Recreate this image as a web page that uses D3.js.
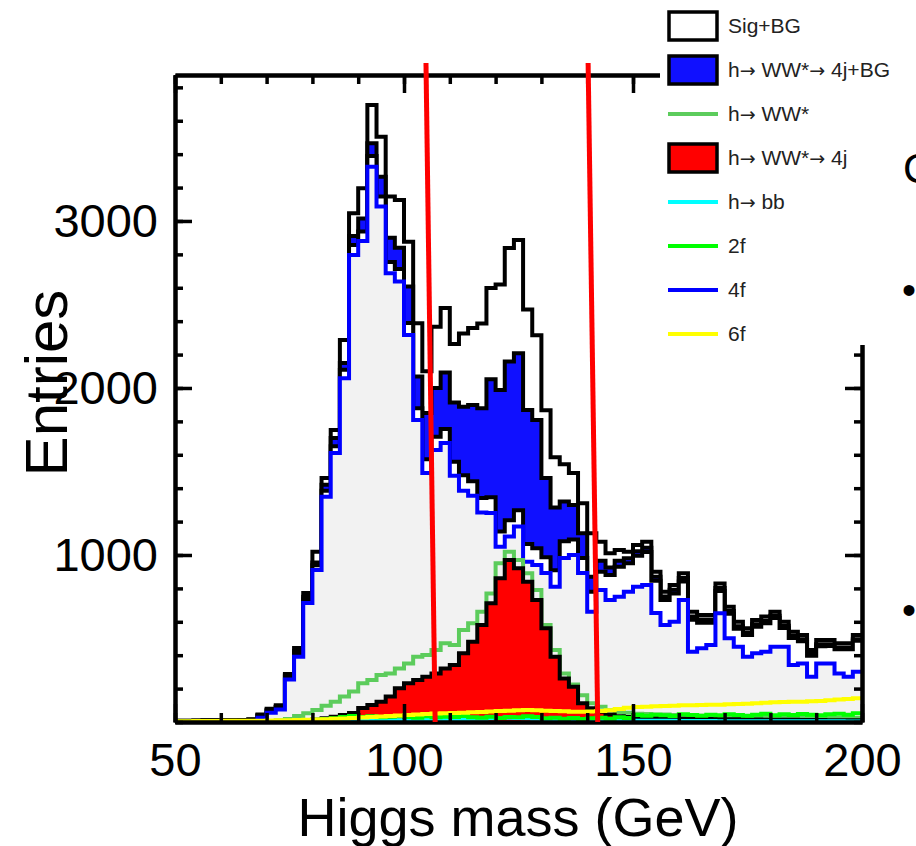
<!DOCTYPE html>
<html>
<head>
<meta charset="utf-8">
<script src="https://cdn.jsdelivr.net/npm/d3@7"></script>
<style>
  body { margin: 0; background: #fff; }
  svg { display: block; }
  text { font-family: "Liberation Sans", Arial, Helvetica, sans-serif; }
</style>
</head>
<body>
<svg id="chart" width="916" height="846"></svg>
<script>
// binning: 2 GeV bins from 50 to 200
const massMin = 50, massMax = 200, binWidth = 2;

// Sig+BG
const sigBG = [8,8,9,10,10,11,11,12,16,
  45,80,100,
  287,443,772,1020,1461,1748,2287,3046,
  3196,3695,3505,3146,3126,2876,2387,2100,2367,2479,
  2263,2326,2359,2386,2599,2620,2838,2886,2470,2315,
  1866,1585,1544,1491,1310,
  1130,1080,1010,1030,1020,1060,1080,900,780,820,890,660,641,641,830,690,600,561,611,631,660,600,541,521,431,491,491,471,471,521];
// h -> WW* -> 4j + BG
const sig4jBG = [7,7,8,9,9,10,10,11,14,
  40,70,92,
  280,425,750,955,1420,1700,2150,2910,
  3015,3465,3265,2900,2840,2607,2068,1850,2000,2093,
  1913,1888,1898,1878,2053,1988,2158,2208,1868,1808,
  1461,1285,1320,1300,1130,
  870,965,925,965,980,1022,1044,870,752,792,862,632,613,613,802,664,574,536,586,606,636,576,516,496,408,466,466,446,446,496];
// total background (not in legend)
const bgTotal = [6,6,7,8,8,9,9,10,12,
  38,69,90,
  272,411,735,939,1384,1651,2109,2856,
  2937,3389,3147,2755,2712,2389,1879,1573,1708,1755,
  1559,1477,1441,1341,1346,1140,1208,1268,1066,1040,
  986,908,1082,1092,982,
  780,900,880,930,950,995,1018,846,730,770,842,612,595,595,785,648,558,521,571,592,622,563,503,484,396,454,455,435,436,486];
// 4f
const bg4f = [0,0,0,0,0,0,0,0,2,
  26,55,75,
  255,391,712,910,1349,1610,2058,2796,
  2880,3325,3086,2687,2637,2317,1808,1491,1629,1671,
  1475,1385,1355,1255,1251,1050,1110,1170,960,940,
  892,810,982,1000,892,
  660,790,730,750,780,810,820,652,581,600,730,421,441,461,651,501,451,391,411,421,451,451,341,351,271,351,351,291,271,301];
// h -> WW*
const sigWW = [0,0,0,0,0,0,0,0,1,2,
  5,10,18,36,52,72,98,122,152,182,
  232,251,281,290,320,351,391,401,431,471,
  461,551,591,660,770,950,1020,970,890,790,
  581,431,291,225,160,112,92,70,60,55,
  50,48,45,45,42,40,40,38,36,35,
  34,33,32,30,30,29,28,28,27,26,
  26,25,25,24,24];
// h -> WW* -> 4j
const sigWW4j = [0,0,0,0,0,0,0,0,0,0,
  0,1,2,4,8,14,22,
  32,42,54,
  84,102,122,152,202,232,251,271,291,321,
  341,411,481,581,711,860,970,920,840,730,
  561,391,261,211,112,82,62,45,35,30,
  28,26,24,22,22,20,20,18,18,17,
  16,16,15,15,14,14,13,13,12,12,
  12,11,11,10,10];
// h -> bb
const sigBB = [0,0,0,0,0,0,0,0,0,0,
  0,0,1,1,2,2,3,3,4,5,
  6,7,8,9,10,11,12,13,14,15,
  16,18,19,20,22,24,25,24,22,20,
  18,16,14,12,11,10,10,9,9,8,
  8,8,7,7,7,6,6,6,6,5,
  5,5,5,5,5,4,4,4,4,4,
  4,4,4,3,3];
// 2f
const bg2f = [2,2,2,3,3,3,3,4,4,4,
  5,5,6,8,10,14,18,22,30,36,
  30,34,28,32,36,30,26,34,28,32,
  30,36,28,26,32,24,30,28,34,30,
  22,26,20,24,18,22,26,20,28,24,
  42,38,44,40,36,46,42,38,44,40,
  46,42,38,44,50,40,46,42,48,44,
  40,46,50,44,52];
// 6f
const bg6f = [5,5,6,6,6,7,7,7,8,8,
  9,10,11,12,13,15,17,19,21,24,
  27,30,33,36,39,42,45,48,51,52,
  54,56,58,60,63,66,68,70,72,70,
  68,66,64,62,62,63,66,70,78,86,
  90,92,94,96,98,100,100,102,104,104,
  106,108,110,112,116,118,120,122,122,124,
  126,130,134,138,142];

const xMajor = [50, 100, 150, 200];
const yMajor = [1000, 2000, 3000];
const cutLines = [[104.8, 106.8], [140.2, 142.3]]; // mass at top, mass at bottom

// labels split around the arrows so the arrow can use a font with a long arrow
const legendItems = [
  { label: ["Sig+BG"], type: "box", fill: "#ffffff" },
  { label: ["h", " WW*", " 4j+BG"], type: "box", fill: "#1010ff" },
  { label: ["h", " WW*"], type: "line", color: "#5ccc5c" },
  { label: ["h", " WW*", " 4j"], type: "box", fill: "#ff0000" },
  { label: ["h", " bb"], type: "line", color: "#00ffff" },
  { label: ["2f"], type: "line", color: "#00ff00" },
  { label: ["4f"], type: "line", color: "#0000ff" },
  { label: ["6f"], type: "line", color: "#ffff00" }
];

const svg = d3.select("#chart");
const x = d3.scaleLinear().domain([massMin, massMax]).range([175, 862]);
const y = d3.scaleLinear().domain([0, 3874]).range([722, 75]);

function pts(vals) {
  const p = vals.map((v, i) => [massMin + i * binWidth, v]);
  p.push([massMax, vals[vals.length - 1]]);
  return p;
}
const line = d3.line().x(d => x(d[0])).y(d => y(d[1])).curve(d3.curveStepAfter);
const area = d3.area().x(d => x(d[0])).y0(y(0)).y1(d => y(d[1])).curve(d3.curveStepAfter);

svg.append("clipPath").attr("id", "plot")
  .append("rect").attr("x", 175).attr("y", 75).attr("width", 687).attr("height", 647);

const hists = [
  { vals: sigBG, fill: "#ffffff", stroke: "#000" },
  { vals: sig4jBG, fill: "#1010ff", stroke: "#000" },
  { vals: bgTotal, fill: "#ffffff", stroke: "#000" },
  { vals: bg4f, fill: "#f2f2f2", stroke: "#0000ff" },
  { vals: sigWW, fill: null, stroke: "#5ccc5c" },
  { vals: sigWW4j, fill: "#ff0000", stroke: "#000" },
  { vals: sigBB, fill: null, stroke: "#00ffff" },
  { vals: bg2f, fill: null, stroke: "#00ff00" },
  { vals: bg6f, fill: null, stroke: "#ffff00" }
];

const g = svg.append("g").attr("clip-path", "url(#plot)");
hists.forEach(h => {
  if (h.fill) g.append("path").attr("d", area(pts(h.vals))).attr("fill", h.fill);
  g.append("path").attr("d", line(pts(h.vals)))
    .attr("fill", "none").attr("stroke", h.stroke).attr("stroke-width", 4);
});

// axes, ticks inward on all four sides
function styleAxis(sel) {
  sel.selectAll(".domain").attr("stroke-width", 4).attr("stroke", "#000");
  sel.selectAll(".tick line").attr("stroke-width", 3.5).attr("stroke", "#000");
}
const xMinor = d3.range(massMin, massMax + 1, 10);
const yMinor = d3.range(0, 3874, 200);

const axBottom = svg.append("g").attr("transform", "translate(0,722)");
axBottom.call(d3.axisBottom(x).tickValues(xMinor).tickSize(-9).tickSizeOuter(0).tickFormat(""));
axBottom.append("g").call(d3.axisBottom(x).tickValues(xMajor).tickSize(-18).tickSizeOuter(0).tickPadding(21).tickFormat(d3.format("d")));
axBottom.selectAll("text").attr("font-size", 47).attr("fill", "#000").attr("font-family", "Liberation Sans, Arial, sans-serif");
styleAxis(axBottom);

const axTop = svg.append("g").attr("transform", "translate(0,75)");
axTop.call(d3.axisTop(x).tickValues(xMinor).tickSize(-9).tickSizeOuter(0).tickFormat(""));
axTop.append("g").call(d3.axisTop(x).tickValues(xMajor).tickSize(-18).tickSizeOuter(0).tickFormat(""));
styleAxis(axTop);

const axLeft = svg.append("g").attr("transform", "translate(175,0)");
axLeft.call(d3.axisLeft(y).tickValues(yMinor).tickSize(-8).tickSizeOuter(0).tickFormat(""));
axLeft.append("g").call(d3.axisLeft(y).tickValues(yMajor).tickSize(-17).tickSizeOuter(0).tickPadding(17).tickFormat(d3.format("d")));
axLeft.selectAll("text").attr("font-size", 47).attr("fill", "#000").attr("font-family", "Liberation Sans, Arial, sans-serif");
styleAxis(axLeft);

const axRight = svg.append("g").attr("transform", "translate(862,0)");
axRight.call(d3.axisRight(y).tickValues(yMinor).tickSize(-8).tickSizeOuter(0).tickFormat(""));
axRight.append("g").call(d3.axisRight(y).tickValues(yMajor).tickSize(-17).tickSizeOuter(0).tickFormat(""));
styleAxis(axRight);

// axis titles
svg.append("text").attr("x", 518).attr("y", 836).attr("text-anchor", "middle")
  .attr("font-size", 54).text("Higgs mass (GeV)");
svg.append("text").attr("transform", "translate(67,383) rotate(-90)")
  .attr("text-anchor", "middle").attr("font-size", 60).text("Entries");

// mass window cut lines
const yTop = 63, yBot = 722;
cutLines.forEach(c => {
  svg.append("line")
    .attr("x1", x(c[0])).attr("y1", yTop)
    .attr("x2", x(c[1])).attr("y2", yBot)
    .attr("stroke", "#ff0000").attr("stroke-width", 5);
});

// legend
svg.append("rect").attr("x", 660).attr("y", 0).attr("width", 256).attr("height", 345).attr("fill", "#fff");
const leg = svg.append("g");
legendItems.forEach((d, i) => {
  const cy = 26 + i * 44;
  if (d.type === "box") {
    leg.append("rect").attr("x", 669).attr("y", cy - 14).attr("width", 48).attr("height", 28)
      .attr("fill", d.fill).attr("stroke", "#000").attr("stroke-width", 3.5);
  } else {
    leg.append("line").attr("x1", 668).attr("x2", 718).attr("y1", cy).attr("y2", cy)
      .attr("stroke", d.color).attr("stroke-width", 4);
  }
  const t = leg.append("text").attr("x", 728).attr("y", cy + 7).attr("font-size", 21).attr("fill", "#222");
  d.label.forEach((part, k) => {
    if (k > 0) t.append("tspan").attr("font-family", "DejaVu Sans").attr("font-size", 19).text("\u2192");
    t.append("tspan").text(part);
  });
});

// slide remnants at the right edge
svg.append("text").attr("x", 903).attr("y", 183).attr("font-size", 42).text("C");
svg.append("text").attr("x", 902).attr("y", 304).attr("font-size", 40).text("\u2022");
svg.append("text").attr("x", 902).attr("y", 624).attr("font-size", 40).text("\u2022");
</script>
</body>
</html>
